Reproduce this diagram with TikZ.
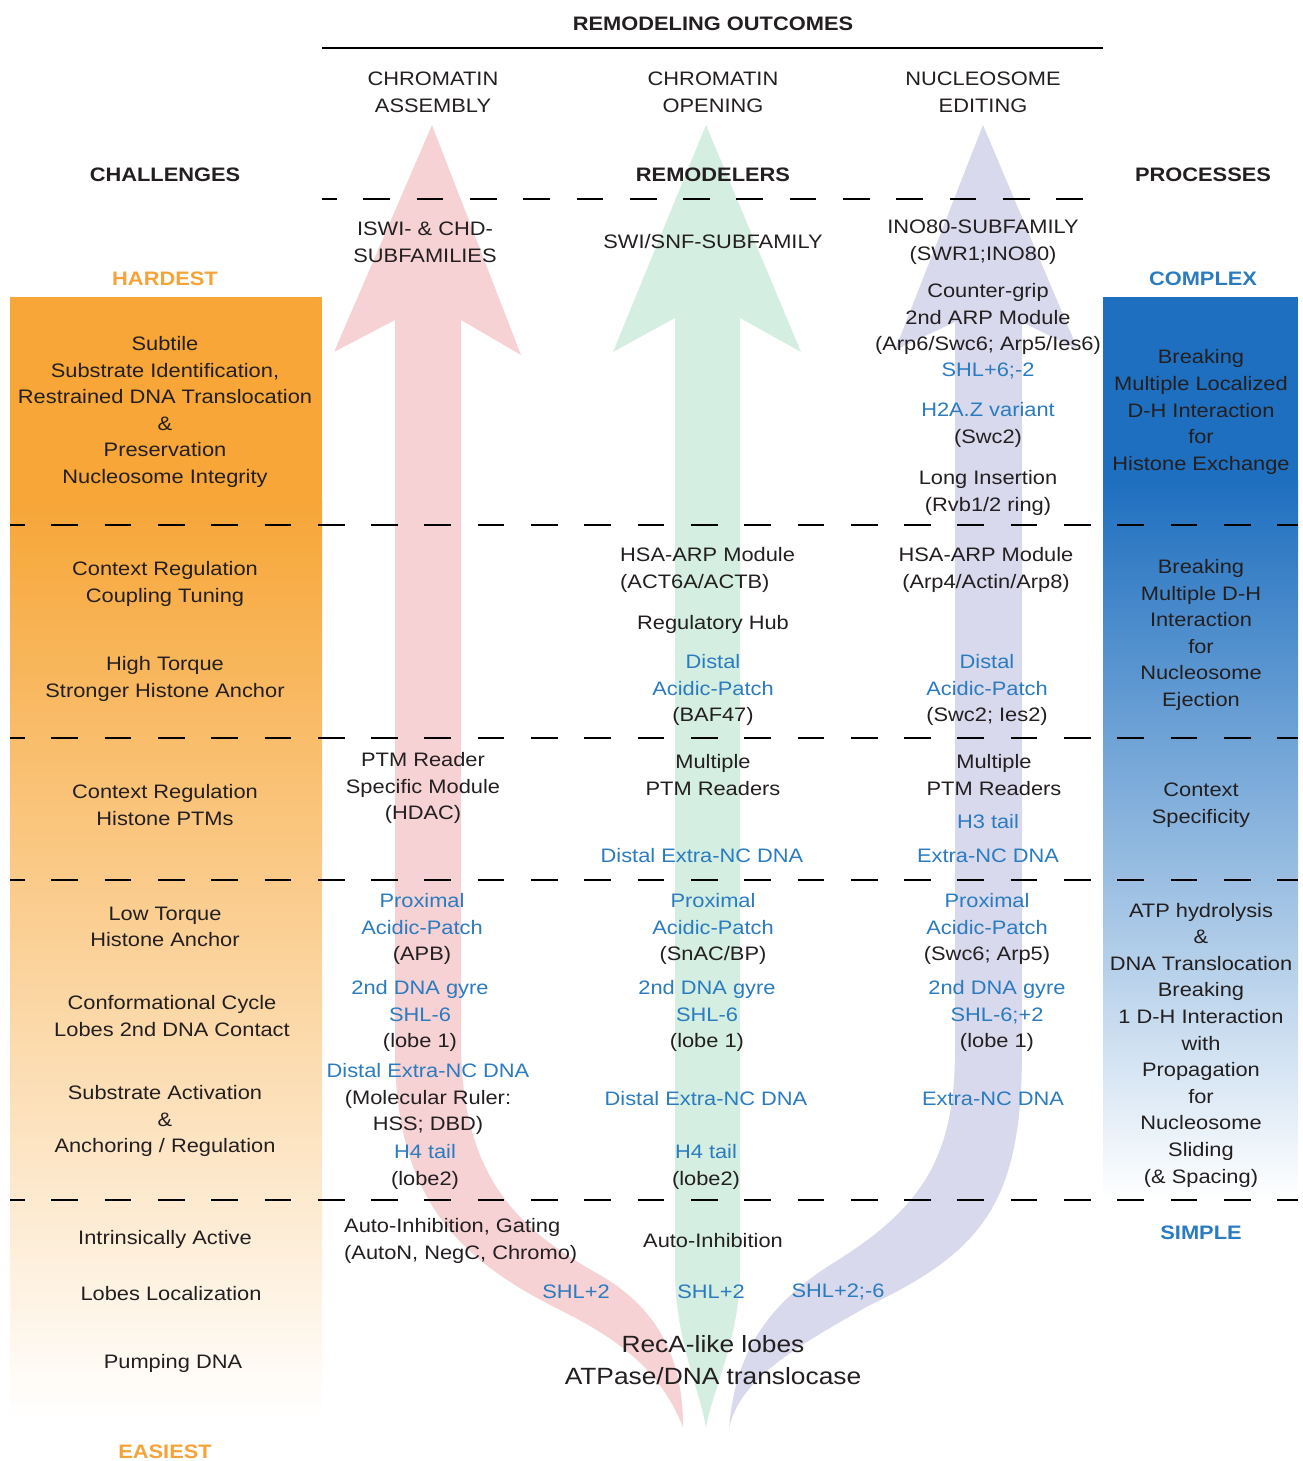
\documentclass[tikz,border=0pt]{standalone}
\usepackage{fontspec}
\setmainfont{Liberation Sans}[FakeStretch=1.12]
\usepackage{tikz}
\usetikzlibrary{positioning}
\definecolor{ink}{HTML}{231F20}
\definecolor{hiblue}{HTML}{2A7BBF}
\definecolor{labelorange}{HTML}{F5A338}
\definecolor{boxorange}{HTML}{F7A637}
\definecolor{boxblue}{HTML}{1E6FBF}
\definecolor{assemblypink}{HTML}{F6D2D4}
\definecolor{openinggreen}{HTML}{D4EEE1}
\definecolor{editingpurple}{HTML}{D8D9EC}
\tikzset{every node/.style={ % plain text labels
    font=\fontsize{19.5}{26.6}\selectfont,
    text=ink,
    align=center,
    yshift=-2pt,
    inner sep=0pt}}

\begin{document}
\begin{tikzpicture}[x=1pt, y=-1pt]

        % Define style
        \tikzstyle{hl} = [text=hiblue]
        \tikzstyle{headline} = [font=\fontsize{19.5}{26.6}\selectfont\bfseries]
        \tikzstyle{big} = [font=\fontsize{23.5}{32}\selectfont]
        \tikzstyle{separator} = [line width=2pt, dash pattern=on 26.7pt off 26.6pt, dash phase=12pt]

        \useasboundingbox (0,0) rectangle (1302,1461);

        % Side columns
        \fill[boxorange] (10,297) rectangle (322,501);
        \shade[top color=boxorange, middle color=boxorange!60!white, bottom color=white] (10,500) rectangle (322,1420);
        \fill[boxblue] (1103,297) rectangle (1298,481);
        \shade[top color=boxblue, middle color=boxblue!55!white, bottom color=white] (1103,480) rectangle (1298,1200);

        % Arrows (assembly, opening, editing)
        \fill[assemblypink] (432,125) -- (521,355) -- (461,320) -- (461,1040)
            .. controls (461,1180) and (520,1230) .. (600,1275)
            .. controls (660,1310) and (683,1360) .. (683,1427)
            .. controls (660,1370) and (620,1340) .. (560,1310)
            .. controls (460,1260) and (395,1200) .. (395,1050)
            -- (395,320) -- (334,352) -- cycle;
        \fill[openinggreen] (706,125) -- (801,352) -- (740,318) -- (740,1270)
            .. controls (740,1340) and (712,1390) .. (706,1428)
            .. controls (700,1390) and (675,1340) .. (675,1270)
            -- (675,318) -- (613,352) -- cycle;
        \fill[editingpurple] (983,125) -- (1078,350) -- (1022,322) -- (1022,1050)
            .. controls (1022,1200) and (985,1250) .. (870,1305)
            .. controls (790,1350) and (740,1380) .. (729,1428)
            .. controls (735,1360) and (760,1310) .. (830,1265)
            .. controls (920,1210) and (955,1160) .. (955,1050)
            -- (955,322) -- (895,350) -- cycle;

        % Rules
        \draw[line width=2.5pt] (322,48) -- (1103,48);
        \draw[separator] (322,199) -- (1103,199);
        \foreach \y in {525,738,880,1200}
            \draw[separator] (10,\y) -- (1298,\y);

        % Headings
        \node[headline] (outcomes) at (713,22) {REMODELING OUTCOMES};
        \node (assembly) at (433,90) {CHROMATIN\\ASSEMBLY};
        \node (opening) at (713,90) {CHROMATIN\\OPENING};
        \node (editing) at (983,90) {NUCLEOSOME\\EDITING};
        \node[headline] (challenges) at (165,173) {CHALLENGES};
        \node[headline] (remodelers) at (713,173) {REMODELERS};
        \node[headline] (processes) at (1203,173) {PROCESSES};
        \node[headline, text=labelorange] (hardest) at (165,277) {HARDEST};
        \node[headline, text=hiblue] (complex) at (1203,277) {COMPLEX};
        \node[headline, text=hiblue] (simple) at (1201,1231) {SIMPLE};
        \node[headline, text=labelorange] (easiest) at (165,1450) {EASIEST};

        % Challenges
        \node (ch1) at (165,410) {Subtile\\Substrate Identification,\\Restrained DNA Translocation\\\&\\Preservation\\Nucleosome Integrity};
        \node (ch2a) at (165,582) {Context Regulation\\Coupling Tuning};
        \node (ch2b) at (165,677) {High Torque\\Stronger Histone Anchor};
        \node (ch3) at (165,803) {Context Regulation\\Histone PTMs};
        \node (ch4a) at (165,925) {Low Torque\\Histone Anchor};
        \node (ch4b) at (172,1014) {Conformational Cycle\\Lobes 2nd DNA Contact};
        \node (ch4c) at (165,1119) {Substrate Activation\\\&\\Anchoring / Regulation};
        \node (ch5a) at (165,1237) {Intrinsically Active};
        \node (ch5b) at (171,1292) {Lobes Localization};
        \node (ch5c) at (173,1361) {Pumping DNA};

        % Chromatin assembly
        \node (as1) at (425,240) {ISWI- \& CHD-\\SUBFAMILIES};
        \node (as2) at (423,786) {PTM Reader\\Specific Module\\(HDAC)};
        \node[hl] (as3) at (422,927) {Proximal\\Acidic-Patch\\\textcolor{ink}{(APB)}};
        \node[hl] (as4) at (420,1014) {2nd DNA gyre\\SHL-6\\\textcolor{ink}{(lobe 1)}};
        \node[hl] (as5) at (428,1097) {Distal Extra-NC DNA\\\textcolor{ink}{(Molecular Ruler:}\\\textcolor{ink}{HSS; DBD)}};
        \node[hl] (as6) at (425,1165) {H4 tail\\\textcolor{ink}{(lobe2)}};
        \node[align=left, anchor=west] (as7) at (344,1239) {Auto-Inhibition, Gating\\(AutoN, NegC, Chromo)};
        \node[hl] (as8) at (576,1290) {SHL+2};

        % Chromatin opening
        \node (op1) at (713,240) {SWI/SNF-SUBFAMILY};
        \node[align=left, anchor=west] (op2) at (620,568) {HSA-ARP Module\\(ACT6A/ACTB)};
        \node (op3) at (713,622) {Regulatory Hub};
        \node[hl] (op4) at (713,688) {Distal\\Acidic-Patch\\\textcolor{ink}{(BAF47)}};
        \node (op5) at (713,773) {Multiple\\PTM Readers};
        \node[hl] (op6) at (702,854) {Distal Extra-NC DNA};
        \node[hl] (op7) at (713,927) {Proximal\\Acidic-Patch\\\textcolor{ink}{(SnAC/BP)}};
        \node[hl] (op8) at (707,1014) {2nd DNA gyre\\SHL-6\\\textcolor{ink}{(lobe 1)}};
        \node[hl] (op9) at (706,1097) {Distal Extra-NC DNA};
        \node[hl] (op10) at (706,1165) {H4 tail\\\textcolor{ink}{(lobe2)}};
        \node (op11) at (713,1239) {Auto-Inhibition};
        \node[hl] (op12) at (711,1290) {SHL+2};
        \node[big] (reca) at (713,1358) {RecA-like lobes\\ATPase/DNA translocase};

        % Nucleosome editing
        \node (ed1) at (983,240) {INO80-SUBFAMILY\\(SWR1;INO80)};
        \node (ed2) at (988,317) {Counter-grip\\2nd ARP Module\\(Arp6/Swc6; Arp5/Ies6)};
        \node[hl] (ed3) at (988,369) {SHL+6;-2};
        \node[hl] (ed4) at (988,423) {H2A.Z variant\\\textcolor{ink}{(Swc2)}};
        \node (ed5) at (988,491) {Long Insertion\\(Rvb1/2 ring)};
        \node (ed6) at (986,568) {HSA-ARP Module\\(Arp4/Actin/Arp8)};
        \node[hl] (ed7) at (987,688) {Distal\\Acidic-Patch\\\textcolor{ink}{(Swc2; Ies2)}};
        \node (ed8) at (994,773) {Multiple\\PTM Readers};
        \node[hl] (ed9) at (988,820) {H3 tail};
        \node[hl] (ed10) at (988,854) {Extra-NC DNA};
        \node[hl] (ed11) at (987,927) {Proximal\\Acidic-Patch\\\textcolor{ink}{(Swc6; Arp5)}};
        \node[hl] (ed12) at (997,1014) {2nd DNA gyre\\SHL-6;+2\\\textcolor{ink}{(lobe 1)}};
        \node[hl] (ed13) at (993,1097) {Extra-NC DNA};
        \node[hl] (ed14) at (838,1290) {SHL+2;-6};

        % Processes
        \node (pr1) at (1201,410) {Breaking\\Multiple Localized\\D-H Interaction\\for\\Histone Exchange};
        \node (pr2) at (1201,633) {Breaking\\Multiple D-H\\Interaction\\for\\Nucleosome\\Ejection};
        \node (pr3) at (1201,803) {Context\\Specificity};
        \node (pr4) at (1201,1043) {ATP hydrolysis\\\&\\DNA Translocation\\Breaking\\1 D-H Interaction\\with\\Propagation\\for\\Nucleosome\\Sliding\\(\& Spacing)};

    \end{tikzpicture}
\end{document}
